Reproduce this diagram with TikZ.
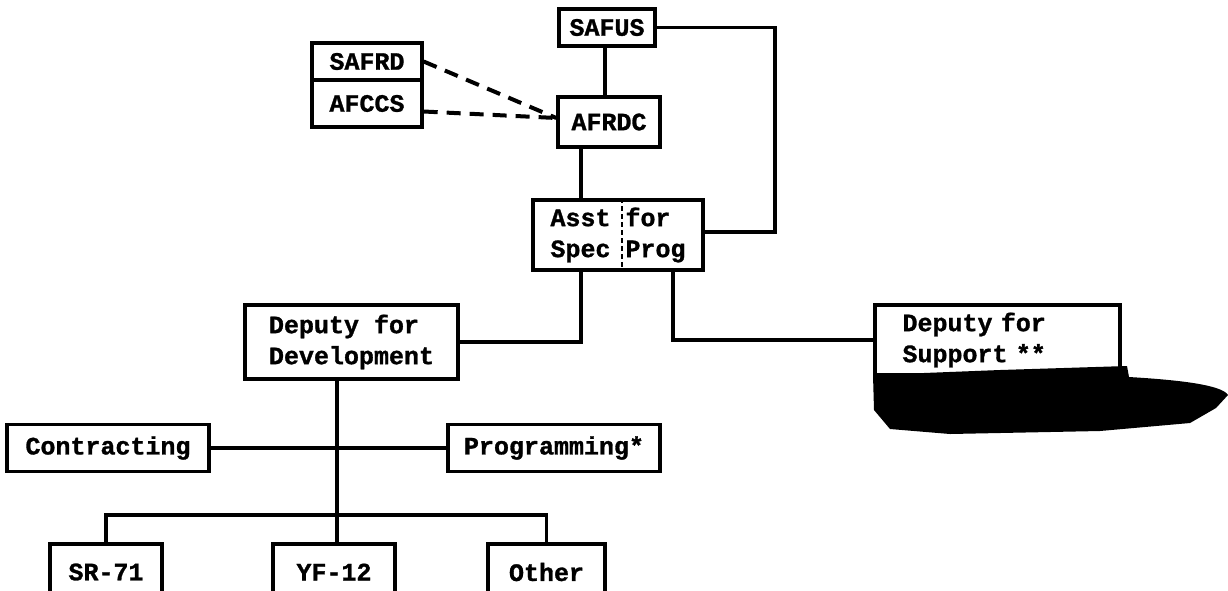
\documentclass[tikz,border=0pt]{standalone}
\usepackage{fontspec}
\setmainfont{Liberation Mono}[BoldFeatures={FakeBold=1.2}]
\usepackage{tikz}
\usetikzlibrary{positioning}

\begin{document}
\begin{tikzpicture}[x=1pt, y=-1pt,
    unit/.style={draw, rectangle, line width=3.4pt, inner sep=0pt,
        font=\fontsize{25}{31}\selectfont\bfseries},
    link/.style={line width=3.4pt},
    staff/.style={line width=4pt, dash pattern=on 14pt off 9pt}]

    \useasboundingbox (0,0) rectangle (1228,590);
    \clip (0,0) rectangle (1228,590);

    % Nodes
    \node[unit, minimum width=96pt, minimum height=37pt] (safus) at (607, 27.5) {SAFUS};
    \node[unit, minimum width=110pt, minimum height=37pt] (safrd) at (367, 61.5) {SAFRD};
    \node[unit, minimum width=110pt, minimum height=47pt] (afccs) at (367, 103.5) {AFCCS};
    \node[unit, minimum width=102pt, minimum height=50pt] (afrdc) at (609, 122) {AFRDC};
    \node[unit, minimum width=170pt, minimum height=70pt, align=left] (asst) at (618, 235) {Asst for\\Spec Prog};
    \node[unit, minimum width=213pt, minimum height=74pt, align=left] (dev) at (351.5, 342) {Deputy for\\Development};
    \node[unit, minimum width=245pt, minimum height=70pt, text width=190pt, align=left] (sup) at (997.5, 340) {Deputy for\\Support **};
    \node[unit, minimum width=202pt, minimum height=47pt] (contr) at (108, 448) {Contracting};
    \node[unit, minimum width=212pt, minimum height=47pt] (progr) at (554, 448) {Programming*};
    \node[unit, minimum width=112pt, minimum height=56pt] (sr) at (106, 572) {SR-71};
    \node[unit, minimum width=122pt, minimum height=56pt] (yf) at (334, 572) {YF-12};
    \node[unit, minimum width=117pt, minimum height=56pt] (other) at (546.5, 572) {Other};

    % Columns of the lines
    \coordinate (ax1) at (581, 0);
    \coordinate (ax2) at (673, 0);
    \coordinate (rt) at (775, 232);
    \coordinate (fold) at (622, 0);
    \coordinate (dx) at (337, 0);
    \coordinate (bus) at (337, 515);

    % Lines
    \draw[link] (safus.south -| 605,0) -- (afrdc.north -| 605,0);
    \draw[link] (safus.east) -- (safus.east -| rt) -- (rt) -- (asst.east |- rt);
    \draw[link] (ax1 |- afrdc.south) -- (ax1 |- asst.north);
    \draw[line width=1.6pt, dash pattern=on 5pt off 3pt] (fold |- asst.north) -- (fold |- asst.south);
    \draw[link] (ax1 |- asst.south) |- (dev.east);
    \draw[link] (ax2 |- asst.south) |- (sup.west);
    \draw[link] (dx |- dev.south) -- (dx |- yf.north);
    \draw[link] (contr.east) -- (progr.west);
    \draw[link] (sr.north) |- (bus) -| (other.north);
    \draw[staff] (safrd.east) -- ([yshift=4pt]afrdc.west);
    \draw[staff] ([yshift=-8pt]afccs.east) -- ([yshift=4pt]afrdc.west);

    % Blacked-out part below Support
    \fill (873,375) -- (1000,370) -- (1127,366) -- (1129,377)
        .. controls (1180,380) and (1222,385) .. (1228,395)
        -- (1216,408) -- (1190,423) -- (1100,431) -- (950,434)
        -- (890,429) -- (874,410) -- cycle;

\end{tikzpicture}
\end{document}
